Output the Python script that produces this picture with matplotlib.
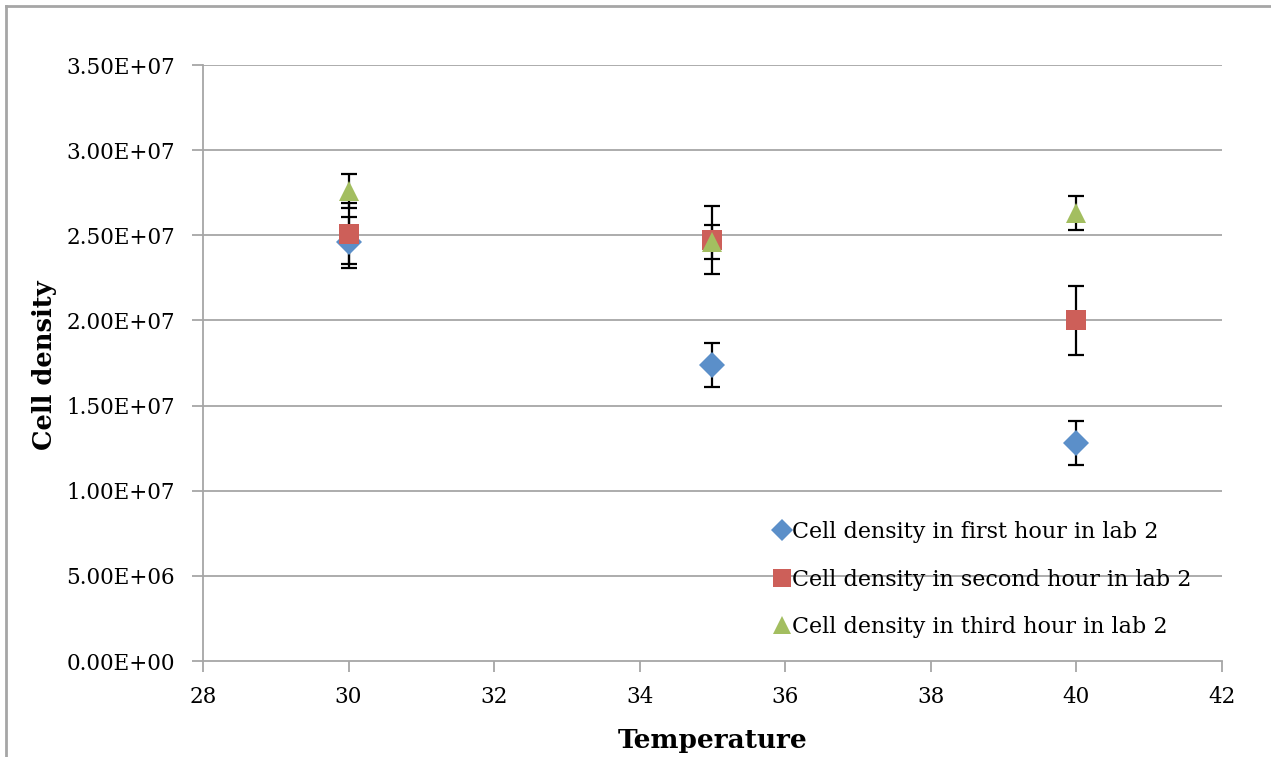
import matplotlib.pyplot as plt
from matplotlib.lines import Line2D

# Date
temperatura = [30, 35, 40]

ora1 = [2.46e7, 1.74e7, 1.28e7]
ora1_err = [0.15e7, 0.13e7, 0.13e7]

ora2 = [2.51e7, 2.47e7, 2.00e7]
ora2_err = [0.18e7, 0.20e7, 0.20e7]

ora3 = [2.76e7, 2.46e7, 2.63e7]
ora3_err = [0.10e7, 0.10e7, 0.10e7]

etichete = [
    "Cell density in first hour in lab 2",
    "Cell density in second hour in lab 2",
    "Cell density in third hour in lab 2",
]

yticks = [0, 5e6, 1e7, 1.5e7, 2e7, 2.5e7, 3e7, 3.5e7]
yticklabels = ["0.00E+00", "5.00E+06", "1.00E+07", "1.50E+07",
               "2.00E+07", "2.50E+07", "3.00E+07", "3.50E+07"]
xticks = [28, 30, 32, 34, 36, 38, 40, 42]

plt.rcParams["font.family"] = ["DejaVu Serif"]

fig = plt.figure(figsize=(12.71, 7.57), dpi=100)
ax = fig.add_axes([0.1597, 0.1268, 0.8017, 0.7873])

gri = "#a6a6a6"

# chenarul exterior (stanga si sus)
fig.add_artist(Line2D([0.005, 0.005], [0, 0.992], transform=fig.transFigure,
                      color=gri, lw=2))
fig.add_artist(Line2D([0.005, 1.0], [0.992, 0.992], transform=fig.transFigure,
                      color=gri, lw=2))

for y in yticks[1:]:
    ax.axhline(y, color=gri, lw=1.3, zorder=0)

serii = [
    (ora1, ora1_err, "D", "#5b8fc9", 13),
    (ora2, ora2_err, "s", "#cd5f59", 15),
    (ora3, ora3_err, "^", "#a3be60", 15),
]
for (vals, err, mk, col, ms), lab in zip(serii, etichete):
    ax.errorbar(temperatura, vals, yerr=err, fmt="none", ecolor="black",
                elinewidth=1.6, capsize=6, capthick=1.6, zorder=2)
    ax.plot(temperatura, vals, linestyle="none", marker=mk, color=col,
            markersize=ms, markeredgewidth=0, label=lab, zorder=3)

ax.set_xlim(28, 42)
ax.set_ylim(0, 3.5e7)
ax.set_xticks(xticks)
ax.set_yticks(yticks)
ax.set_yticklabels(yticklabels)

for s in ["top", "right"]:
    ax.spines[s].set_visible(False)
for s in ["left", "bottom"]:
    ax.spines[s].set_color(gri)
    ax.spines[s].set_linewidth(1.3)
ax.tick_params(axis="both", direction="out", length=8, width=1.3, color=gri,
               labelsize=15.5)
ax.tick_params(axis="y", pad=12)
ax.tick_params(axis="x", pad=10)

ax.set_xlabel("Temperature", fontsize=19, fontweight="bold")
ax.set_ylabel("Cell density", fontsize=18.5, fontweight="bold")
ax.xaxis.label.set_va("center")
ax.yaxis.label.set_va("center")
ax.xaxis.set_label_coords(0.5, -0.1326)
ax.yaxis.set_label_coords(-0.156, 0.497)

ax.legend(loc="upper left", bbox_to_anchor=(0.5604, 0.235), frameon=False,
          fontsize=16, handlelength=0.7, handletextpad=0.1, labelspacing=1.15,
          borderaxespad=0, borderpad=0, markerscale=0.85)

fig.savefig("out.png", dpi=100)
